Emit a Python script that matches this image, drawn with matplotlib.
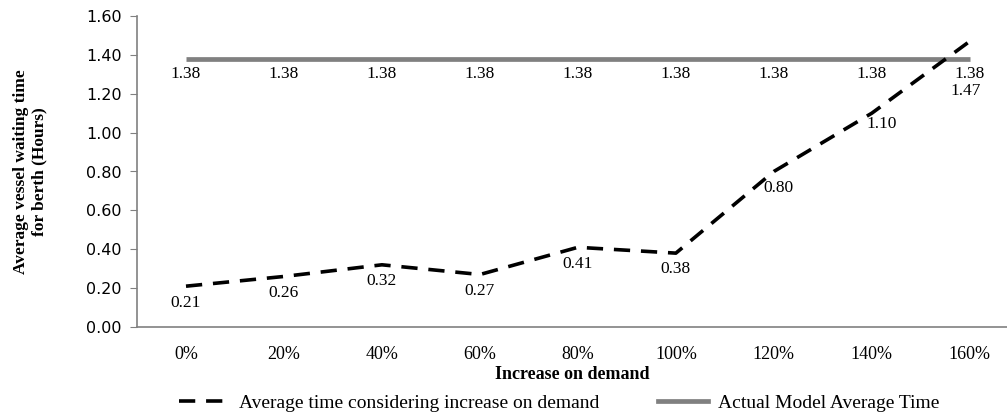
import matplotlib
matplotlib.use("Agg")
import matplotlib.pyplot as plt
from matplotlib.lines import Line2D

categories = ["0%", "20%", "40%", "60%", "80%", "100%", "120%", "140%", "160%"]
demand_avg = [0.21, 0.26, 0.32, 0.27, 0.41, 0.38, 0.80, 1.10, 1.47]
actual_avg = [1.38] * 9
yticks = [0.00, 0.20, 0.40, 0.60, 0.80, 1.00, 1.20, 1.40, 1.60]

serif = "Liberation Serif"
grey = "#808080"

fig = plt.figure(figsize=(10.07, 4.15), dpi=100)
ax = fig.add_axes([137 / 1007, 1 - 327 / 415, 1 - 137 / 1007, (327 - 16) / 415])

x = list(range(len(categories)))
ax.plot(x, actual_avg, color=grey, lw=3.4, solid_capstyle="butt")
ax.plot(x, demand_avg, color="black", lw=2.6, ls=(0, (4.5, 3)))

for xi, v in zip(x, actual_avg):
    ax.annotate(f"{v:.2f}", (xi, v), xytext=(0, -5), textcoords="offset points",
                ha="center", va="top", family=serif, fontsize=12.5)

# label offsets (points) for the demand series
offsets = [(0, -6), (0, -6), (0, -6), (0, -6), (0, -6), (0, -6), (3, -6), (7, -2), (-3, -30)]
for xi, v, off in zip(x, demand_avg, offsets):
    ax.annotate(f"{v:.2f}", (xi, v), xytext=off, textcoords="offset points",
                ha="center", va="top", family=serif, fontsize=12.5)

ax.set_xlim(-0.5, 8.38)
ax.set_ylim(0, 1.6)
ax.set_yticks(yticks)
ax.set_yticklabels([f"{t:.2f}" for t in yticks], family="DejaVu Sans", fontsize=11.5)
ax.set_xticks(x)
ax.set_xticklabels(categories, family=serif, fontsize=13)
ax.tick_params(axis="x", length=0, pad=14)
ax.tick_params(axis="y", length=5, color=grey, pad=6)

for s in ["top", "right"]:
    ax.spines[s].set_visible(False)
for s in ["left", "bottom"]:
    ax.spines[s].set_color(grey)
    ax.spines[s].set_linewidth(1.2)

ax.set_xlabel("Increase on demand", family=serif, fontsize=13, fontweight="bold", labelpad=2)
ax.set_ylabel("Average vessel waiting time\nfor berth (Hours)", family=serif,
              fontsize=12.5, fontweight="bold", labelpad=28)

handles = [
    Line2D([], [], color="black", lw=2.6, ls=(0, (4.5, 3))),
    Line2D([], [], color=grey, lw=3.4),
]
fig.legend(handles, ["Average time considering increase on demand", "Actual Model Average Time"],
           loc="lower center", bbox_to_anchor=(0.555, -0.035), ncol=2, frameon=False,
           prop={"family": serif, "size": 14}, handlelength=2.6, columnspacing=3.0,
           handletextpad=0.5)

fig.savefig("out.png", dpi=100)
